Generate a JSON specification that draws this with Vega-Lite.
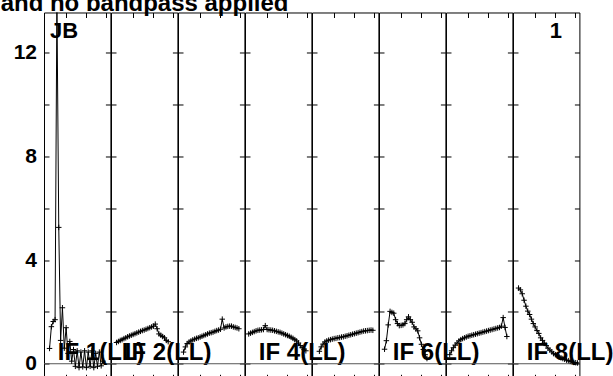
{
"$schema":"https://vega.github.io/schema/vega-lite/v6.json",
"background":"white",
"padding":{"left":0,"top":-7.5,"right":0,"bottom":0},
"title":{"text":"and no bandpass applied","anchor":"start","frame":"bounds","fontSize":24,"font":"Liberation Sans","fontWeight":"bold","color":"black","offset":-5,"dx":-12},
"config":{"view":{"stroke":"black","strokeWidth":1},"axis":{"domain":false,"grid":false,"tickColor":"black","tickSize":-5,"tickWidth":1,"title":null,"labels":false},"text":{"font":"Liberation Sans","fontWeight":"bold","color":"black"}},
"spacing":0,
"bounds":"flush",
"datasets":{
"labels":[{"IF":1,"label":"IF 1(LL)"},{"IF":2,"label":"IF 2(LL)"},{"IF":4,"label":"IF 4(LL)"},{"IF":6,"label":"IF 6(LL)"},{"IF":8,"label":"IF 8(LL)"}],
"bp":[
{"IF":1,"ch":3,"amp":0.59},{"IF":1,"ch":4,"amp":1.43},{"IF":1,"ch":5,"amp":1.63},{"IF":1,"ch":6,"amp":1.7},{"IF":1,"ch":7,"amp":14.0},{"IF":1,"ch":8,"amp":5.26},{"IF":1,"ch":9,"amp":0.9},{"IF":1,"ch":10,"amp":2.16},{"IF":1,"ch":11,"amp":0.6},{"IF":1,"ch":12,"amp":1.39},{"IF":1,"ch":13,"amp":0.4},{"IF":1,"ch":14,"amp":0.86},{"IF":1,"ch":15,"amp":0.1},{"IF":1,"ch":16,"amp":0.55},{"IF":1,"ch":17,"amp":-0.1},{"IF":1,"ch":18,"amp":0.5},{"IF":1,"ch":19,"amp":-0.15},{"IF":1,"ch":20,"amp":0.45},{"IF":1,"ch":21,"amp":-0.12},{"IF":1,"ch":22,"amp":0.5},{"IF":1,"ch":23,"amp":-0.15},{"IF":1,"ch":24,"amp":0.45},{"IF":1,"ch":25,"amp":-0.1},{"IF":1,"ch":26,"amp":0.5},{"IF":1,"ch":27,"amp":-0.15},{"IF":1,"ch":28,"amp":0.4},{"IF":1,"ch":29,"amp":-0.1},{"IF":1,"ch":30,"amp":0.45},{"IF":1,"ch":31,"amp":-0.08},{"IF":1,"ch":32,"amp":0.1},
{"IF":2,"ch":3,"amp":0.82},{"IF":2,"ch":4,"amp":0.86},{"IF":2,"ch":5,"amp":0.9},{"IF":2,"ch":6,"amp":0.93},{"IF":2,"ch":7,"amp":0.97},{"IF":2,"ch":8,"amp":1.0},{"IF":2,"ch":9,"amp":1.04},{"IF":2,"ch":10,"amp":1.07},{"IF":2,"ch":11,"amp":1.1},{"IF":2,"ch":12,"amp":1.13},{"IF":2,"ch":13,"amp":1.16},{"IF":2,"ch":14,"amp":1.19},{"IF":2,"ch":15,"amp":1.22},{"IF":2,"ch":16,"amp":1.25},{"IF":2,"ch":17,"amp":1.28},{"IF":2,"ch":18,"amp":1.3},{"IF":2,"ch":19,"amp":1.33},{"IF":2,"ch":20,"amp":1.36},{"IF":2,"ch":21,"amp":1.39},{"IF":2,"ch":22,"amp":1.42},{"IF":2,"ch":23,"amp":1.45},{"IF":2,"ch":24,"amp":1.53},{"IF":2,"ch":25,"amp":1.35},{"IF":2,"ch":26,"amp":1.15},{"IF":2,"ch":27,"amp":1.1},{"IF":2,"ch":28,"amp":1.05},{"IF":2,"ch":29,"amp":1.0},{"IF":2,"ch":30,"amp":0.9},{"IF":2,"ch":31,"amp":0.85},
{"IF":3,"ch":3,"amp":0.45},{"IF":3,"ch":4,"amp":0.65},{"IF":3,"ch":5,"amp":0.78},{"IF":3,"ch":6,"amp":0.84},{"IF":3,"ch":7,"amp":0.88},{"IF":3,"ch":8,"amp":0.92},{"IF":3,"ch":9,"amp":0.95},{"IF":3,"ch":10,"amp":0.98},{"IF":3,"ch":11,"amp":1.0},{"IF":3,"ch":12,"amp":1.03},{"IF":3,"ch":13,"amp":1.06},{"IF":3,"ch":14,"amp":1.09},{"IF":3,"ch":15,"amp":1.12},{"IF":3,"ch":16,"amp":1.15},{"IF":3,"ch":17,"amp":1.18},{"IF":3,"ch":18,"amp":1.2},{"IF":3,"ch":19,"amp":1.22},{"IF":3,"ch":20,"amp":1.25},{"IF":3,"ch":21,"amp":1.28},{"IF":3,"ch":22,"amp":1.3},{"IF":3,"ch":23,"amp":1.33},{"IF":3,"ch":24,"amp":1.72},{"IF":3,"ch":25,"amp":1.38},{"IF":3,"ch":26,"amp":1.42},{"IF":3,"ch":27,"amp":1.44},{"IF":3,"ch":28,"amp":1.45},{"IF":3,"ch":29,"amp":1.45},{"IF":3,"ch":30,"amp":1.42},{"IF":3,"ch":31,"amp":1.4},{"IF":3,"ch":32,"amp":1.38},{"IF":3,"ch":33,"amp":1.35},
{"IF":4,"ch":2,"amp":1.15},{"IF":4,"ch":3,"amp":1.18},{"IF":4,"ch":4,"amp":1.21},{"IF":4,"ch":5,"amp":1.24},{"IF":4,"ch":6,"amp":1.27},{"IF":4,"ch":7,"amp":1.29},{"IF":4,"ch":8,"amp":1.3},{"IF":4,"ch":9,"amp":1.31},{"IF":4,"ch":10,"amp":1.32},{"IF":4,"ch":11,"amp":1.47},{"IF":4,"ch":12,"amp":1.32},{"IF":4,"ch":13,"amp":1.31},{"IF":4,"ch":14,"amp":1.3},{"IF":4,"ch":15,"amp":1.29},{"IF":4,"ch":16,"amp":1.27},{"IF":4,"ch":17,"amp":1.25},{"IF":4,"ch":18,"amp":1.23},{"IF":4,"ch":19,"amp":1.21},{"IF":4,"ch":20,"amp":1.18},{"IF":4,"ch":21,"amp":1.15},{"IF":4,"ch":22,"amp":1.12},{"IF":4,"ch":23,"amp":1.09},{"IF":4,"ch":24,"amp":1.06},{"IF":4,"ch":25,"amp":1.02},{"IF":4,"ch":26,"amp":0.98},{"IF":4,"ch":27,"amp":0.93},{"IF":4,"ch":28,"amp":0.88},{"IF":4,"ch":29,"amp":0.8},{"IF":4,"ch":30,"amp":0.7},{"IF":4,"ch":31,"amp":0.62},{"IF":4,"ch":32,"amp":0.56},{"IF":4,"ch":33,"amp":0.5},
{"IF":5,"ch":4,"amp":0.48},{"IF":5,"ch":5,"amp":0.65},{"IF":5,"ch":6,"amp":0.76},{"IF":5,"ch":7,"amp":0.84},{"IF":5,"ch":8,"amp":0.88},{"IF":5,"ch":9,"amp":0.91},{"IF":5,"ch":10,"amp":0.93},{"IF":5,"ch":11,"amp":0.95},{"IF":5,"ch":12,"amp":0.97},{"IF":5,"ch":13,"amp":0.98},{"IF":5,"ch":14,"amp":1.0},{"IF":5,"ch":15,"amp":1.01},{"IF":5,"ch":16,"amp":1.03},{"IF":5,"ch":17,"amp":1.04},{"IF":5,"ch":18,"amp":1.06},{"IF":5,"ch":19,"amp":1.08},{"IF":5,"ch":20,"amp":1.1},{"IF":5,"ch":21,"amp":1.12},{"IF":5,"ch":22,"amp":1.14},{"IF":5,"ch":23,"amp":1.16},{"IF":5,"ch":24,"amp":1.18},{"IF":5,"ch":25,"amp":1.2},{"IF":5,"ch":26,"amp":1.22},{"IF":5,"ch":27,"amp":1.24},{"IF":5,"ch":28,"amp":1.26},{"IF":5,"ch":29,"amp":1.27},{"IF":5,"ch":30,"amp":1.28},{"IF":5,"ch":31,"amp":1.29},{"IF":5,"ch":32,"amp":1.3},{"IF":5,"ch":33,"amp":1.29},
{"IF":6,"ch":3,"amp":0.56},{"IF":6,"ch":4,"amp":0.89},{"IF":6,"ch":5,"amp":1.5},{"IF":6,"ch":6,"amp":2.02},{"IF":6,"ch":7,"amp":1.98},{"IF":6,"ch":8,"amp":1.95},{"IF":6,"ch":9,"amp":1.7},{"IF":6,"ch":10,"amp":1.55},{"IF":6,"ch":11,"amp":1.47},{"IF":6,"ch":12,"amp":1.48},{"IF":6,"ch":13,"amp":1.5},{"IF":6,"ch":14,"amp":1.55},{"IF":6,"ch":15,"amp":1.7},{"IF":6,"ch":16,"amp":1.81},{"IF":6,"ch":17,"amp":1.7},{"IF":6,"ch":18,"amp":1.6},{"IF":6,"ch":19,"amp":1.42},{"IF":6,"ch":20,"amp":1.35},{"IF":6,"ch":21,"amp":1.27},{"IF":6,"ch":22,"amp":1.0},{"IF":6,"ch":23,"amp":0.75},{"IF":6,"ch":24,"amp":0.55},{"IF":6,"ch":25,"amp":0.35},{"IF":6,"ch":26,"amp":0.2},
{"IF":7,"ch":2,"amp":0.35},{"IF":7,"ch":3,"amp":0.5},{"IF":7,"ch":4,"amp":0.62},{"IF":7,"ch":5,"amp":0.72},{"IF":7,"ch":6,"amp":0.8},{"IF":7,"ch":7,"amp":0.88},{"IF":7,"ch":8,"amp":0.93},{"IF":7,"ch":9,"amp":0.97},{"IF":7,"ch":10,"amp":1.0},{"IF":7,"ch":11,"amp":1.03},{"IF":7,"ch":12,"amp":1.06},{"IF":7,"ch":13,"amp":1.08},{"IF":7,"ch":14,"amp":1.1},{"IF":7,"ch":15,"amp":1.12},{"IF":7,"ch":16,"amp":1.14},{"IF":7,"ch":17,"amp":1.16},{"IF":7,"ch":18,"amp":1.18},{"IF":7,"ch":19,"amp":1.2},{"IF":7,"ch":20,"amp":1.22},{"IF":7,"ch":21,"amp":1.24},{"IF":7,"ch":22,"amp":1.26},{"IF":7,"ch":23,"amp":1.28},{"IF":7,"ch":24,"amp":1.3},{"IF":7,"ch":25,"amp":1.32},{"IF":7,"ch":26,"amp":1.34},{"IF":7,"ch":27,"amp":1.36},{"IF":7,"ch":28,"amp":1.38},{"IF":7,"ch":29,"amp":1.4},{"IF":7,"ch":30,"amp":1.45},{"IF":7,"ch":31,"amp":1.78},{"IF":7,"ch":32,"amp":1.4},{"IF":7,"ch":33,"amp":1.05},
{"IF":8,"ch":3,"amp":2.92},{"IF":8,"ch":4,"amp":2.85},{"IF":8,"ch":5,"amp":2.7},{"IF":8,"ch":6,"amp":2.45},{"IF":8,"ch":7,"amp":2.22},{"IF":8,"ch":8,"amp":2.03},{"IF":8,"ch":9,"amp":1.9},{"IF":8,"ch":10,"amp":1.72},{"IF":8,"ch":11,"amp":1.55},{"IF":8,"ch":12,"amp":1.42},{"IF":8,"ch":13,"amp":1.28},{"IF":8,"ch":14,"amp":1.17},{"IF":8,"ch":15,"amp":1.0},{"IF":8,"ch":16,"amp":0.9},{"IF":8,"ch":17,"amp":0.8},{"IF":8,"ch":18,"amp":0.7},{"IF":8,"ch":19,"amp":0.6},{"IF":8,"ch":20,"amp":0.53},{"IF":8,"ch":21,"amp":0.46},{"IF":8,"ch":22,"amp":0.39},{"IF":8,"ch":23,"amp":0.35},{"IF":8,"ch":24,"amp":0.31},{"IF":8,"ch":25,"amp":0.27},{"IF":8,"ch":26,"amp":0.23},{"IF":8,"ch":27,"amp":0.2},{"IF":8,"ch":28,"amp":0.17},{"IF":8,"ch":29,"amp":0.14},{"IF":8,"ch":30,"amp":0.12},{"IF":8,"ch":31,"amp":0.09},{"IF":8,"ch":32,"amp":0.07},{"IF":8,"ch":33,"amp":0.05},{"IF":8,"ch":34,"amp":0.04},{"IF":8,"ch":35,"amp":0.03}
]},
"hconcat":[
{"width":66.4,"height":366.8,"resolve":{"axis":{"x":"independent","y":"independent"}},"layer":[
{"data":{"values":[{}]},"mark":{"type":"rule","color":"#555","strokeWidth":1},"encoding":{"y":{"datum":0,"type":"quantitative","scale":{"domain":[-0.6,13.55]},"axis":null}}},
{"data":{"name":"bp"},"transform":[{"filter":"datum.IF == 1"}],"mark":{"type":"line","color":"black","strokeWidth":1,"clip":true},"encoding":{"x":{"field":"ch","type":"quantitative","scale":{"domain":[0,36]},"axis":{"orient":"bottom","values":[11.8,22.6,33.5]}},"y":{"field":"amp","type":"quantitative","scale":{"domain":[-0.6,13.55]},"axis":{"orient":"left","values":[0,2,4,6,8,10,12],"labels":true,"labelExpr":"datum.value % 4 == 0 ? datum.label : ''","labelFont":"Liberation Sans","labelFontWeight":"bold","labelFontSize":21,"labelColor":"black","labelPadding":12.5}}}},
{"data":{"name":"bp"},"transform":[{"filter":"datum.IF == 1"}],"mark":{"type":"point","shape":"M-1,0H1M0,-1V1","size":30,"color":"black","filled":false,"strokeWidth":1,"opacity":1,"clip":true},"encoding":{"x":{"field":"ch","type":"quantitative","scale":{"domain":[0,36]},"axis":{"orient":"top","values":[11.8,22.6,33.5]}},"y":{"field":"amp","type":"quantitative","scale":{"domain":[-0.6,13.55]},"axis":{"orient":"right","values":[0,2,4,6,8,10,12]}}}},
{"data":{"values":[{"t":"JB"}]},"mark":{"type":"text","align":"left","baseline":"alphabetic","fontSize":22},"encoding":{"text":{"field":"t"},"x":{"datum":3.3,"type":"quantitative","scale":{"domain":[0,36]},"axis":null},"y":{"datum":12.55,"type":"quantitative","scale":{"domain":[-0.6,13.55]},"axis":null}}},
{"data":{"name":"labels"},"transform":[{"filter":"datum.IF == 1"}],"mark":{"type":"text","align":"left","baseline":"alphabetic","fontSize":24},"encoding":{"text":{"field":"label"},"x":{"datum":7.5,"type":"quantitative","scale":{"domain":[0,36]},"axis":null},"y":{"datum":0.14,"type":"quantitative","scale":{"domain":[-0.6,13.55]},"axis":null}}}
]},
{"width":66.4,"height":366.8,"resolve":{"axis":{"x":"independent","y":"independent"}},"layer":[
{"data":{"values":[{}]},"mark":{"type":"rule","color":"#555","strokeWidth":1},"encoding":{"y":{"datum":0,"type":"quantitative","scale":{"domain":[-0.6,13.55]},"axis":null}}},
{"data":{"name":"bp"},"transform":[{"filter":"datum.IF == 2"}],"mark":{"type":"line","color":"black","strokeWidth":1,"clip":true},"encoding":{"x":{"field":"ch","type":"quantitative","scale":{"domain":[0,36]},"axis":{"orient":"bottom","values":[11.8,22.6,33.5]}},"y":{"field":"amp","type":"quantitative","scale":{"domain":[-0.6,13.55]},"axis":{"orient":"left","values":[0,2,4,6,8,10,12]}}}},
{"data":{"name":"bp"},"transform":[{"filter":"datum.IF == 2"}],"mark":{"type":"point","shape":"M-1,0H1M0,-1V1","size":30,"color":"black","filled":false,"strokeWidth":1,"opacity":1,"clip":true},"encoding":{"x":{"field":"ch","type":"quantitative","scale":{"domain":[0,36]},"axis":{"orient":"top","values":[11.8,22.6,33.5]}},"y":{"field":"amp","type":"quantitative","scale":{"domain":[-0.6,13.55]},"axis":{"orient":"right","values":[0,2,4,6,8,10,12]}}}},
{"data":{"name":"labels"},"transform":[{"filter":"datum.IF == 2"}],"mark":{"type":"text","align":"left","baseline":"alphabetic","fontSize":24},"encoding":{"text":{"field":"label"},"x":{"datum":7.5,"type":"quantitative","scale":{"domain":[0,36]},"axis":null},"y":{"datum":0.14,"type":"quantitative","scale":{"domain":[-0.6,13.55]},"axis":null}}}
]},
{"width":66.4,"height":366.8,"resolve":{"axis":{"x":"independent","y":"independent"}},"layer":[
{"data":{"values":[{}]},"mark":{"type":"rule","color":"#555","strokeWidth":1},"encoding":{"y":{"datum":0,"type":"quantitative","scale":{"domain":[-0.6,13.55]},"axis":null}}},
{"data":{"name":"bp"},"transform":[{"filter":"datum.IF == 3"}],"mark":{"type":"line","color":"black","strokeWidth":1,"clip":true},"encoding":{"x":{"field":"ch","type":"quantitative","scale":{"domain":[0,36]},"axis":{"orient":"bottom","values":[11.8,22.6,33.5]}},"y":{"field":"amp","type":"quantitative","scale":{"domain":[-0.6,13.55]},"axis":{"orient":"left","values":[0,2,4,6,8,10,12]}}}},
{"data":{"name":"bp"},"transform":[{"filter":"datum.IF == 3"}],"mark":{"type":"point","shape":"M-1,0H1M0,-1V1","size":30,"color":"black","filled":false,"strokeWidth":1,"opacity":1,"clip":true},"encoding":{"x":{"field":"ch","type":"quantitative","scale":{"domain":[0,36]},"axis":{"orient":"top","values":[11.8,22.6,33.5]}},"y":{"field":"amp","type":"quantitative","scale":{"domain":[-0.6,13.55]},"axis":{"orient":"right","values":[0,2,4,6,8,10,12]}}}}
]},
{"width":66.4,"height":366.8,"resolve":{"axis":{"x":"independent","y":"independent"}},"layer":[
{"data":{"values":[{}]},"mark":{"type":"rule","color":"#555","strokeWidth":1},"encoding":{"y":{"datum":0,"type":"quantitative","scale":{"domain":[-0.6,13.55]},"axis":null}}},
{"data":{"name":"bp"},"transform":[{"filter":"datum.IF == 4"}],"mark":{"type":"line","color":"black","strokeWidth":1,"clip":true},"encoding":{"x":{"field":"ch","type":"quantitative","scale":{"domain":[0,36]},"axis":{"orient":"bottom","values":[11.8,22.6,33.5]}},"y":{"field":"amp","type":"quantitative","scale":{"domain":[-0.6,13.55]},"axis":{"orient":"left","values":[0,2,4,6,8,10,12]}}}},
{"data":{"name":"bp"},"transform":[{"filter":"datum.IF == 4"}],"mark":{"type":"point","shape":"M-1,0H1M0,-1V1","size":30,"color":"black","filled":false,"strokeWidth":1,"opacity":1,"clip":true},"encoding":{"x":{"field":"ch","type":"quantitative","scale":{"domain":[0,36]},"axis":{"orient":"top","values":[11.8,22.6,33.5]}},"y":{"field":"amp","type":"quantitative","scale":{"domain":[-0.6,13.55]},"axis":{"orient":"right","values":[0,2,4,6,8,10,12]}}}},
{"data":{"name":"labels"},"transform":[{"filter":"datum.IF == 4"}],"mark":{"type":"text","align":"left","baseline":"alphabetic","fontSize":24},"encoding":{"text":{"field":"label"},"x":{"datum":7.5,"type":"quantitative","scale":{"domain":[0,36]},"axis":null},"y":{"datum":0.14,"type":"quantitative","scale":{"domain":[-0.6,13.55]},"axis":null}}}
]},
{"width":66.4,"height":366.8,"resolve":{"axis":{"x":"independent","y":"independent"}},"layer":[
{"data":{"values":[{}]},"mark":{"type":"rule","color":"#555","strokeWidth":1},"encoding":{"y":{"datum":0,"type":"quantitative","scale":{"domain":[-0.6,13.55]},"axis":null}}},
{"data":{"name":"bp"},"transform":[{"filter":"datum.IF == 5"}],"mark":{"type":"line","color":"black","strokeWidth":1,"clip":true},"encoding":{"x":{"field":"ch","type":"quantitative","scale":{"domain":[0,36]},"axis":{"orient":"bottom","values":[11.8,22.6,33.5]}},"y":{"field":"amp","type":"quantitative","scale":{"domain":[-0.6,13.55]},"axis":{"orient":"left","values":[0,2,4,6,8,10,12]}}}},
{"data":{"name":"bp"},"transform":[{"filter":"datum.IF == 5"}],"mark":{"type":"point","shape":"M-1,0H1M0,-1V1","size":30,"color":"black","filled":false,"strokeWidth":1,"opacity":1,"clip":true},"encoding":{"x":{"field":"ch","type":"quantitative","scale":{"domain":[0,36]},"axis":{"orient":"top","values":[11.8,22.6,33.5]}},"y":{"field":"amp","type":"quantitative","scale":{"domain":[-0.6,13.55]},"axis":{"orient":"right","values":[0,2,4,6,8,10,12]}}}}
]},
{"width":66.4,"height":366.8,"resolve":{"axis":{"x":"independent","y":"independent"}},"layer":[
{"data":{"values":[{}]},"mark":{"type":"rule","color":"#555","strokeWidth":1},"encoding":{"y":{"datum":0,"type":"quantitative","scale":{"domain":[-0.6,13.55]},"axis":null}}},
{"data":{"name":"bp"},"transform":[{"filter":"datum.IF == 6"}],"mark":{"type":"line","color":"black","strokeWidth":1,"clip":true},"encoding":{"x":{"field":"ch","type":"quantitative","scale":{"domain":[0,36]},"axis":{"orient":"bottom","values":[11.8,22.6,33.5]}},"y":{"field":"amp","type":"quantitative","scale":{"domain":[-0.6,13.55]},"axis":{"orient":"left","values":[0,2,4,6,8,10,12]}}}},
{"data":{"name":"bp"},"transform":[{"filter":"datum.IF == 6"}],"mark":{"type":"point","shape":"M-1,0H1M0,-1V1","size":30,"color":"black","filled":false,"strokeWidth":1,"opacity":1,"clip":true},"encoding":{"x":{"field":"ch","type":"quantitative","scale":{"domain":[0,36]},"axis":{"orient":"top","values":[11.8,22.6,33.5]}},"y":{"field":"amp","type":"quantitative","scale":{"domain":[-0.6,13.55]},"axis":{"orient":"right","values":[0,2,4,6,8,10,12]}}}},
{"data":{"name":"labels"},"transform":[{"filter":"datum.IF == 6"}],"mark":{"type":"text","align":"left","baseline":"alphabetic","fontSize":24},"encoding":{"text":{"field":"label"},"x":{"datum":7.5,"type":"quantitative","scale":{"domain":[0,36]},"axis":null},"y":{"datum":0.14,"type":"quantitative","scale":{"domain":[-0.6,13.55]},"axis":null}}}
]},
{"width":66.4,"height":366.8,"resolve":{"axis":{"x":"independent","y":"independent"}},"layer":[
{"data":{"values":[{}]},"mark":{"type":"rule","color":"#555","strokeWidth":1},"encoding":{"y":{"datum":0,"type":"quantitative","scale":{"domain":[-0.6,13.55]},"axis":null}}},
{"data":{"name":"bp"},"transform":[{"filter":"datum.IF == 7"}],"mark":{"type":"line","color":"black","strokeWidth":1,"clip":true},"encoding":{"x":{"field":"ch","type":"quantitative","scale":{"domain":[0,36]},"axis":{"orient":"bottom","values":[11.8,22.6,33.5]}},"y":{"field":"amp","type":"quantitative","scale":{"domain":[-0.6,13.55]},"axis":{"orient":"left","values":[0,2,4,6,8,10,12]}}}},
{"data":{"name":"bp"},"transform":[{"filter":"datum.IF == 7"}],"mark":{"type":"point","shape":"M-1,0H1M0,-1V1","size":30,"color":"black","filled":false,"strokeWidth":1,"opacity":1,"clip":true},"encoding":{"x":{"field":"ch","type":"quantitative","scale":{"domain":[0,36]},"axis":{"orient":"top","values":[11.8,22.6,33.5]}},"y":{"field":"amp","type":"quantitative","scale":{"domain":[-0.6,13.55]},"axis":{"orient":"right","values":[0,2,4,6,8,10,12]}}}}
]},
{"width":66.4,"height":366.8,"resolve":{"axis":{"x":"independent","y":"independent"}},"layer":[
{"data":{"values":[{}]},"mark":{"type":"rule","color":"#555","strokeWidth":1},"encoding":{"y":{"datum":0,"type":"quantitative","scale":{"domain":[-0.6,13.55]},"axis":null}}},
{"data":{"name":"bp"},"transform":[{"filter":"datum.IF == 8"}],"mark":{"type":"line","color":"black","strokeWidth":1,"clip":true},"encoding":{"x":{"field":"ch","type":"quantitative","scale":{"domain":[0,36]},"axis":{"orient":"bottom","values":[11.8,22.6,33.5]}},"y":{"field":"amp","type":"quantitative","scale":{"domain":[-0.6,13.55]},"axis":{"orient":"left","values":[0,2,4,6,8,10,12]}}}},
{"data":{"name":"bp"},"transform":[{"filter":"datum.IF == 8"}],"mark":{"type":"point","shape":"M-1,0H1M0,-1V1","size":30,"color":"black","filled":false,"strokeWidth":1,"opacity":1,"clip":true},"encoding":{"x":{"field":"ch","type":"quantitative","scale":{"domain":[0,36]},"axis":{"orient":"top","values":[11.8,22.6,33.5]}},"y":{"field":"amp","type":"quantitative","scale":{"domain":[-0.6,13.55]},"axis":{"orient":"right","values":[0,2,4,6,8,10,12]}}}},
{"data":{"values":[{"t":"1"}]},"mark":{"type":"text","align":"right","baseline":"alphabetic","fontSize":22},"encoding":{"text":{"field":"t"},"x":{"datum":26.6,"type":"quantitative","scale":{"domain":[0,36]},"axis":null},"y":{"datum":12.55,"type":"quantitative","scale":{"domain":[-0.6,13.55]},"axis":null}}},
{"data":{"name":"labels"},"transform":[{"filter":"datum.IF == 8"}],"mark":{"type":"text","align":"left","baseline":"alphabetic","fontSize":24},"encoding":{"text":{"field":"label"},"x":{"datum":7.5,"type":"quantitative","scale":{"domain":[0,36]},"axis":null},"y":{"datum":0.14,"type":"quantitative","scale":{"domain":[-0.6,13.55]},"axis":null}}}
]}
]
}
